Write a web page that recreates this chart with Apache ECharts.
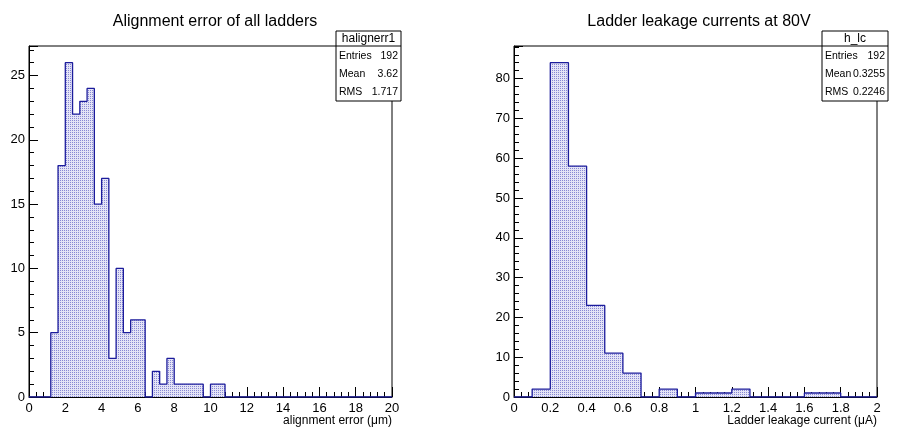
<!DOCTYPE html>
<html>
<head>
<meta charset="utf-8">
<script src="https://cdn.jsdelivr.net/npm/echarts@6/dist/echarts.min.js"></script>
<style>
    html, body { margin: 0; padding: 0; background: #fff; }
    #main { width: 912px; height: 430px; }
</style>
</head>
<body>
<div id="main"></div>
<script>
    // alignment error histogram (bins of 0.4 um starting at 1.2)
    var alignBinStart = 1.2;
    var alignBinWidth = 0.4;
    var alignCounts = [5, 18, 26, 22, 23, 24, 15, 17, 3, 10, 5, 6, 6, 0, 2, 1, 3, 1, 1, 1, 1, 0, 1, 1];
    var alignStats = [['Entries', '192'], ['Mean', '3.62'], ['RMS', '1.717']];

    // leakage current histogram (bins of 0.1 uA starting at 0.1)
    var leakBinStart = 0.1;
    var leakBinWidth = 0.1;
    var leakCounts = [2, 84, 58, 23, 11, 6, 0, 2, 0, 1, 1, 2, 0, 0, 0, 1, 1];
    var leakStats = [['Entries', '192'], ['Mean', '0.3255'], ['RMS', '0.2246']];

    var FONT = 'Liberation Sans, Arial, sans-serif';
    var LINE = '#1c1c9c';

    // 组合直方图轮廓点
    function histPoints(start, width, counts, xmax) {
        var pts = [[0, 0], [start, 0]];
        for (var i = 0; i < counts.length; i++) {
            var lo = +(start + i * width).toFixed(4);
            var hi = +(start + (i + 1) * width).toFixed(4);
            pts.push([lo, counts[i]]);
            pts.push([hi, counts[i]]);
        }
        pts.push([+(start + counts.length * width).toFixed(4), 0]);
        pts.push([xmax, 0]);
        return pts;
    }

    // 点状填充
    function makePattern() {
        var c = document.createElement('canvas');
        c.width = 2; c.height = 2;
        var ctx = c.getContext('2d');
        ctx.fillStyle = '#e4e4f6';
        ctx.fillRect(0, 0, 2, 2);
        ctx.fillStyle = '#8888d4';
        ctx.fillRect(0, 0, 1, 1);
        return c;
    }
    var pattern = makePattern();

    function xAxisOpt(idx, max, interval, name) {
        return {
            gridIndex: idx, type: 'value', min: 0, max: max, interval: interval,
            axisLine: { show: true, lineStyle: { color: '#000', width: 1 } },
            axisTick: { show: true, inside: true, length: 10, lineStyle: { color: '#000' } },
            minorTick: { show: true, splitNumber: 5, length: 5, lineStyle: { color: '#000' } },
            splitLine: { show: false },
            axisLabel: { color: '#000', fontFamily: FONT, fontSize: 13, margin: 5 },
            name: name, nameLocation: 'end', nameGap: 0,
            nameTextStyle: { color: '#000', fontFamily: FONT, fontSize: 12, align: 'right', verticalAlign: 'top', padding: [18, 0, 0, 0] }
        };
    }

    function yAxisOpt(idx, max, interval) {
        return {
            gridIndex: idx, type: 'value', min: 0, max: max, interval: interval,
            axisLine: { show: true, lineStyle: { color: '#000', width: 1 } },
            axisTick: { show: true, inside: true, length: 9, lineStyle: { color: '#000' } },
            minorTick: { show: true, splitNumber: 5, length: 5, lineStyle: { color: '#000' } },
            splitLine: { show: false },
            axisLabel: { color: '#000', fontFamily: FONT, fontSize: 13, margin: 4, showMaxLabel: false }
        };
    }

    function statBox(x, y, w, title, rows) {
        var els = [];
        var h = 70;
        els.push({ type: 'rect', shape: { x: x, y: y, width: w, height: h }, style: { fill: '#fff', stroke: '#000', lineWidth: 1 }, z: 10 });
        els.push({ type: 'line', shape: { x1: x, y1: y + 15, x2: x + w, y2: y + 15 }, style: { stroke: '#000', lineWidth: 1 }, z: 11 });
        els.push({ type: 'text', x: x + w / 2, y: y + 8, style: { text: title, fill: '#000', font: '12px ' + FONT, textAlign: 'center', textVerticalAlign: 'middle' }, z: 11 });
        for (var i = 0; i < rows.length; i++) {
            var ty = y + 25 + i * 18;
            els.push({ type: 'text', x: x + 3, y: ty, style: { text: rows[i][0], fill: '#000', font: '10.5px ' + FONT, textAlign: 'left', textVerticalAlign: 'middle' }, z: 11 });
            els.push({ type: 'text', x: x + w - 3, y: ty, style: { text: rows[i][1], fill: '#000', font: '10.5px ' + FONT, textAlign: 'right', textVerticalAlign: 'middle' }, z: 11 });
        }
        return els;
    }

    var chart = echarts.init(document.getElementById('main'));
    var option = {
        animation: false,
        title: [
            { text: 'Alignment error of all ladders', left: 210, top: 9, textAlign: 'center',
              textStyle: { fontFamily: FONT, fontSize: 16, fontWeight: 'normal', color: '#000' } },
            { text: 'Ladder leakage currents at 80V', left: 694, top: 9, textAlign: 'center',
              textStyle: { fontFamily: FONT, fontSize: 16, fontWeight: 'normal', color: '#000' } }
        ],
        grid: [
            { left: 29, top: 46, width: 363, height: 351, show: true, borderColor: '#000', borderWidth: 1,
              backgroundColor: 'transparent', outerBoundsMode: 'none', containLabel: false },
            { left: 514, top: 46, width: 363, height: 351, show: true, borderColor: '#000', borderWidth: 1,
              backgroundColor: 'transparent', outerBoundsMode: 'none', containLabel: false }
        ],
        xAxis: [
            xAxisOpt(0, 20, 2, 'alignment error (\u03bcm)'),
            xAxisOpt(1, 2, 0.2, 'Ladder leakage current (\u03bcA)')
        ],
        yAxis: [
            yAxisOpt(0, 27.3, 5),
            yAxisOpt(1, 88.2, 10)
        ],
        series: [
            {
                type: 'line', xAxisIndex: 0, yAxisIndex: 0, symbol: 'none',
                data: histPoints(alignBinStart, alignBinWidth, alignCounts, 20),
                lineStyle: { color: LINE, width: 1.3 },
                areaStyle: { color: { image: pattern, repeat: 'repeat' }, opacity: 1 }
            },
            {
                type: 'line', xAxisIndex: 1, yAxisIndex: 1, symbol: 'none',
                data: histPoints(leakBinStart, leakBinWidth, leakCounts, 2),
                lineStyle: { color: LINE, width: 1.3 },
                areaStyle: { color: { image: pattern, repeat: 'repeat' }, opacity: 1 }
            }
        ],
        graphic: statBox(336, 31, 65, 'halignerr1', alignStats).concat(statBox(822, 31, 66, 'h_lc', leakStats))
    };
    chart.setOption(option);
</script>
</body>
</html>
